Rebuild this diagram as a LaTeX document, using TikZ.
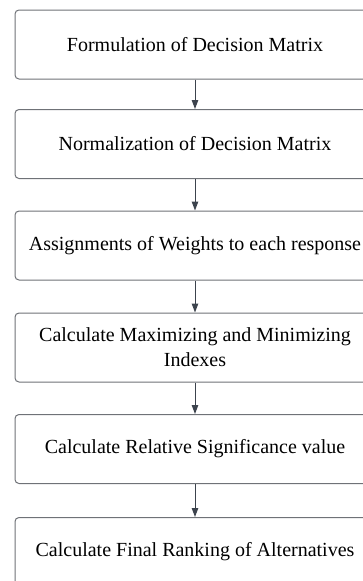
\documentclass[tikz,border=0pt]{standalone}
\usepackage{fontspec}
\setmainfont{Liberation Serif}
\usetikzlibrary{arrows.meta}
\definecolor{framegray}{HTML}{6F7277}
\definecolor{arrowslate}{HTML}{3C434D}

\begin{document}
\begin{tikzpicture}[
    x=1pt, y=-1pt,
    % Define the style for the process boxes (rounded, thin grey frame)
    stepbox/.style={draw=framegray, line width=1pt, rounded corners=4pt,
        minimum width=360pt, minimum height=69pt, inner sep=0pt,
        align=center, font=\fontsize{20}{25}\selectfont},
    % Define the style for the connectors (dark slate, filled tip)
    flow/.style={draw=arrowslate, line width=1pt,
        -{Triangle[width=6.5pt,length=9pt]}}
]

    % --- Frame of the picture ---
    \useasboundingbox (0,0) rectangle (363,581);
    \clip (0,0) rectangle (363,581);

    % Boxes
    \node[stepbox] (form)  at (195,44.5)  {Formulation of Decision Matrix};
    \node[stepbox] (norm)  at (195,144)   {Normalization of Decision Matrix};
    \node[stepbox] (wght)  at (195,245.5) {Assignments of Weights to each response};
    \node[stepbox] (index) at (195,347.5) {Calculate Maximizing and Minimizing\\Indexes};
    \node[stepbox] (signf) at (195,449)   {Calculate Relative Significance value};
    \node[stepbox] (rank)  at (195,552)   {Calculate Final Ranking of Alternatives};

    % Connectors
    \draw[flow] (form)  -- (norm);
    \draw[flow] (norm)  -- (wght);
    \draw[flow] (wght)  -- (index);
    \draw[flow] (index) -- (signf);
    \draw[flow] (signf) -- (rank);

\end{tikzpicture}
\end{document}
